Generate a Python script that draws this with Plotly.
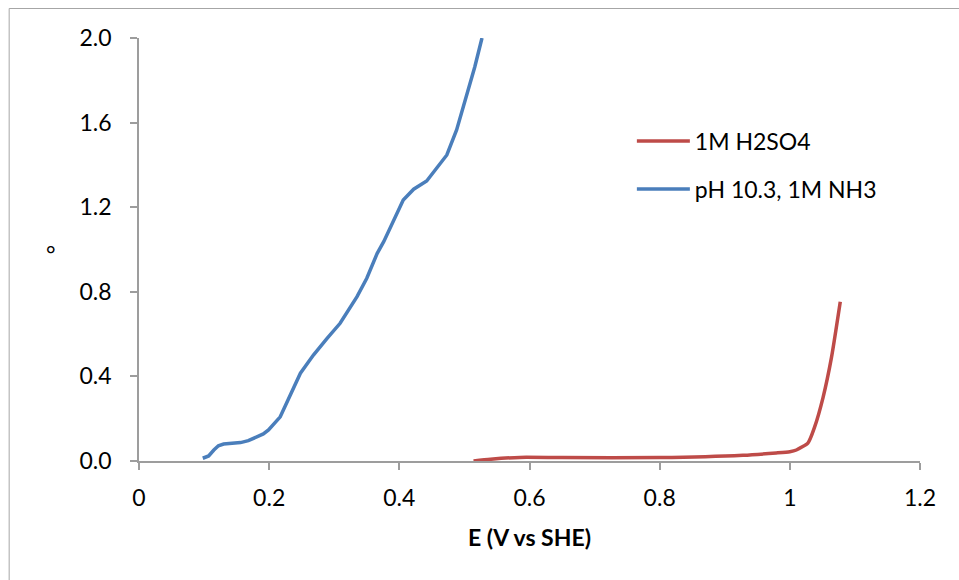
import plotly.graph_objects as go

# Data
blue_name = "pH 10.3, 1M NH3"
blue_x = [0.098, 0.107, 0.115, 0.122, 0.130, 0.156, 0.168, 0.181, 0.191, 0.199,
          0.217, 0.248, 0.268, 0.289, 0.309, 0.335, 0.350, 0.366, 0.376, 0.406,
          0.422, 0.442, 0.473, 0.488, 0.509, 0.516, 0.527]
blue_y = [0.013, 0.024, 0.052, 0.072, 0.080, 0.087, 0.096, 0.112, 0.128, 0.147,
          0.209, 0.415, 0.501, 0.580, 0.651, 0.777, 0.864, 0.982, 1.037, 1.234,
          1.285, 1.324, 1.447, 1.565, 1.786, 1.864, 2.000]

red_name = "1M H2SO4"
red_x = [0.514, 0.540, 0.585, 0.650, 0.800, 0.928, 0.979, 1.000, 1.010, 1.028,
         1.038, 1.051, 1.064, 1.0775]
red_y = [0.000, 0.008, 0.017, 0.016, 0.016, 0.027, 0.038, 0.044, 0.052, 0.086,
         0.160, 0.300, 0.490, 0.753]

x_title = "E (V vs SHE)"
y_title = "°"
x_ticks = [0, 0.2, 0.4, 0.6, 0.8, 1.0, 1.2]
x_ticklabels = ["0", "0.2", "0.4", "0.6", "0.8", "1", "1.2"]
y_ticks = [0.0, 0.4, 0.8, 1.2, 1.6, 2.0]
y_ticklabels = ["0.0", "0.4", "0.8", "1.2", "1.6", "2.0"]

FONT = "Lato"
FS = 23
AXC = "#9d9d9d"

fig = go.Figure()
fig.add_trace(go.Scatter(x=red_x, y=red_y, mode="lines", name=red_name, showlegend=True,
                         line=dict(color="#BE4B48", width=3.5, shape="spline", smoothing=0.6),
                         legend="legend"))
fig.add_trace(go.Scatter(x=blue_x, y=blue_y, mode="lines", name=blue_name, showlegend=True,
                         line=dict(color="#4A7EBB", width=3.5),
                         legend="legend2"))

W, H = 959, 580
L, R, T, B = 138.5, 38.5, 38, 119
pw, ph = W - L - R, H - T - B

def px_x(p):
    return (p - L) / pw

def px_y(p):
    return (H - B - p) / ph

leg_common = dict(font=dict(family=FONT, size=FS, color="#000"), bgcolor="rgba(0,0,0,0)",
                  borderwidth=0, xanchor="left", yanchor="middle", itemwidth=53,
                  tracegroupgap=0, visible=True)
fig.update_layout(
    width=W, height=H,
    showlegend=True,
    margin=dict(l=L, r=R, t=T, b=B, pad=0),
    paper_bgcolor="white", plot_bgcolor="white",
    font=dict(family=FONT, size=FS, color="#000"),
    legend=dict(x=px_x(632), y=px_y(141), **leg_common),
    legend2=dict(x=px_x(632), y=px_y(189), **leg_common),
    xaxis=dict(range=[0, 1.2], tickvals=x_ticks, ticktext=x_ticklabels,
               showgrid=False, zeroline=False, showline=True, linecolor=AXC, linewidth=1.5,
               ticks="outside", ticklen=7, tickcolor=AXC, tickwidth=1.5,
               ticklabelstandoff=9,
               title=dict(text="<b>" + x_title + "</b>", font=dict(family=FONT, size=FS), standoff=20)),
    yaxis=dict(range=[0, 2.0], tickvals=y_ticks, ticktext=y_ticklabels,
               showgrid=False, zeroline=False, showline=True, linecolor=AXC, linewidth=1.5,
               ticks="outside", ticklen=7, tickcolor=AXC, tickwidth=1.5,
               ticklabelstandoff=14),
    shapes=[dict(type="rect", xref="paper", yref="paper",
                 x0=px_x(8.5), x1=px_x(970), y0=px_y(590), y1=px_y(8.5),
                 line=dict(color="#a6a6a6", width=1), layer="below")],
    annotations=[dict(text=y_title, xref="paper", yref="paper", x=px_x(50), y=px_y(254),
                      showarrow=False, xanchor="center", yanchor="middle",
                      font=dict(family=FONT, size=FS, color="#000"))],
)

fig.write_html("out.html")
